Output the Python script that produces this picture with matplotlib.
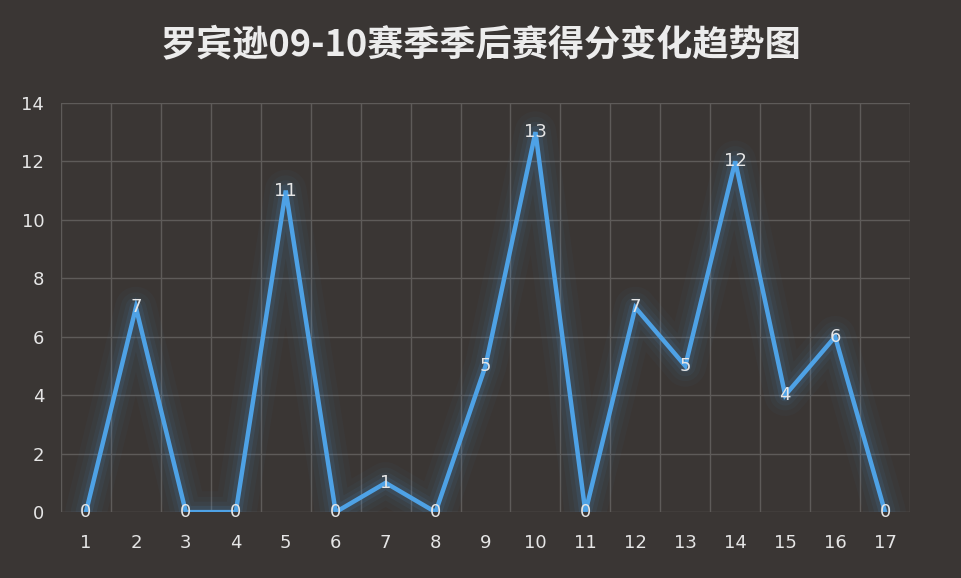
import numpy as np
import matplotlib
matplotlib.use("Agg")
import matplotlib.pyplot as plt

plt.rcParams['font.family'] = ['Noto Sans CJK SC', 'DejaVu Sans']

games = list(range(1, 18))
points = [0, 7, 0, 0, 11, 0, 1, 0, 5, 13, 0, 7, 5, 12, 4, 6, 0]
title = "罗宾逊09-10赛季季后赛得分变化趋势图"

bg = "#3a3634"
line_c = "#4ea2e6"
txt_c = "#e6e6e6"
grid_c = "#5e5b59"

fig = plt.figure(figsize=(9.62, 5.78), dpi=100, facecolor=bg)
ax = fig.add_axes([0.0634, 0.114, 0.8826, 0.708])
ax.set_facecolor(bg)

# glow
for lw, a in [(30, 0.03), (22, 0.04), (15, 0.06), (9, 0.10)]:
    ax.plot(games, points, color=line_c, lw=lw, alpha=a, solid_joinstyle="round",
            solid_capstyle="round", zorder=2)
ax.plot(games, points, color=line_c, lw=3.2, zorder=3, solid_joinstyle="miter")

for x, y in zip(games, points):
    ax.text(x, y, str(y), ha="center", va="center", color=txt_c, fontsize=13,
            family="DejaVu Sans", zorder=4)

ax.set_xlim(0.5, 17.5)
ax.set_ylim(0, 14)
ax.set_yticks(range(0, 15, 2))
ax.set_xticks(games)
ax.set_xticks(np.arange(0.5, 18, 1), minor=True)
ax.grid(False)
ax.xaxis.grid(True, which="minor", color=grid_c, lw=1)
ax.yaxis.grid(True, which="major", color=grid_c, lw=1)
ax.set_axisbelow(True)
ax.tick_params(axis="both", which="both", length=0, colors=txt_c, labelsize=13)
ax.tick_params(axis="x", pad=16)
ax.tick_params(axis="y", pad=12)
for s in ax.spines.values():
    s.set_visible(False)
for lab in ax.get_xticklabels() + ax.get_yticklabels():
    lab.set_family("DejaVu Sans")

fig.text(0.5, 0.922, title, ha="center", va="center", color="#ececec",
         fontsize=26, fontweight="bold")

fig.savefig("out.png", dpi=100, facecolor=bg)
